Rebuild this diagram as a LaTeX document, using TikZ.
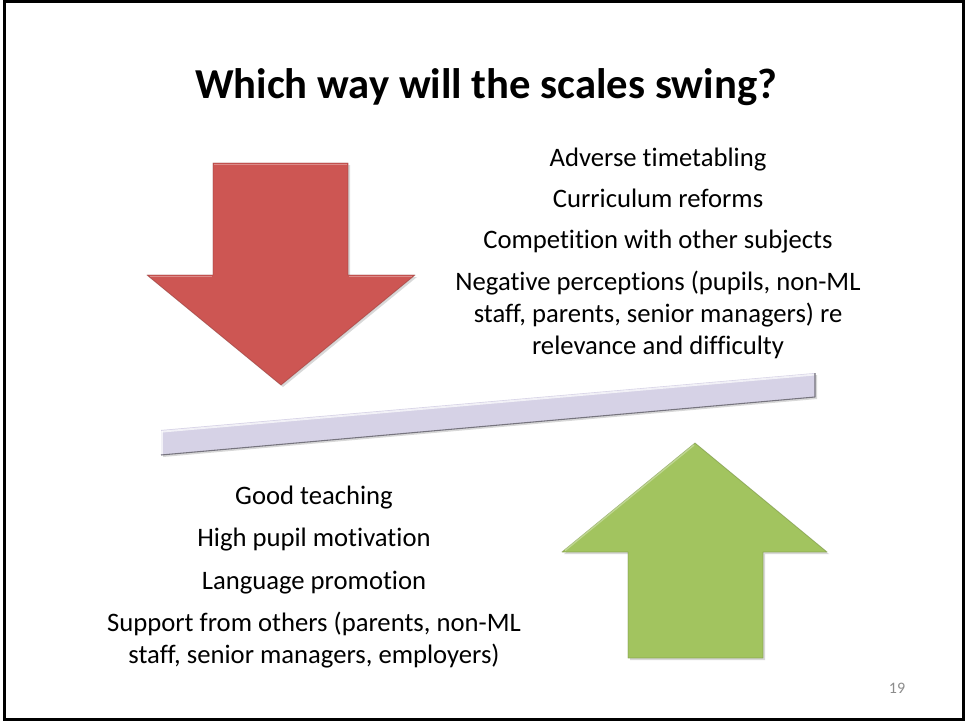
\documentclass[tikz,border=0pt]{standalone}
\usepackage{fontspec}
\setmainfont{Carlito}[Ligatures=NoCommon]
\usetikzlibrary{positioning,shadows}

\definecolor{downred}{RGB}{205,86,83}
\definecolor{upgreen}{RGB}{162,196,95}
\definecolor{beamlilac}{RGB}{214,210,230}
\definecolor{numgray}{RGB}{140,140,140}

\begin{document}
\begin{tikzpicture}[x=0.75pt,y=-0.75pt,
  factor/.style={font=\fontsize{20}{24}\selectfont, inner sep=0pt, text height=14pt, text depth=5pt},
  bevel/.style={drop shadow={opacity=0.3, shadow xshift=1.5pt, shadow yshift=-1.5pt}},
  edgelight/.style={line width=1.1pt, opacity=0.7},
  node distance=31pt]
  \useasboundingbox (0,0) rectangle (967,721);
  \fill[white] (0,0) rectangle (967,721);
  \draw[line width=2.25pt] (4.5,1.5) rectangle (963,719.5);

  % title
  \node[font=\bfseries\fontsize{32}{38}\selectfont, anchor=base] (title) at (486,98) {Which way will the scales swing?};

  % red arrow
  \fill[downred, bevel] (213,163) -- (348,163) -- (348,275) -- (415,275) -- (281,385) -- (147,275) -- (213,275) -- cycle;
  \draw[downred!75!black, line width=0.6pt, line join=round, opacity=0.6] (213,163) -- (348,163) -- (348,275) -- (415,275) -- (281,385) -- (147,275) -- (213,275) -- cycle;
  \draw[edgelight, downred!55!white] (214,164.5) -- (347,164.5);
  \draw[edgelight, downred!55!white] (150,276.5) -- (212,276.5);
  \draw[edgelight, downred!55!white] (349,276.5) -- (412,276.5);

  % green arrow
  \fill[upgreen, bevel] (628,658) -- (763,658) -- (763,552) -- (827,552) -- (695,443) -- (562,552) -- (628,552) -- cycle;
  \draw[upgreen!75!black, line width=0.6pt, line join=round, opacity=0.6] (628,658) -- (763,658) -- (763,552) -- (827,552) -- (695,443) -- (562,552) -- (628,552) -- cycle;
  \draw[edgelight, upgreen!55!white] (565,550.5) -- (694,445);

  % beam
  \fill[beamlilac, bevel] (161,430) -- (815,373) -- (815,397) -- (161,455) -- cycle;
  \draw[edgelight, white, line width=1.4pt] (162,431.6) -- (814,374.6);
  \draw[edgelight, white] (162.2,431) -- (162.2,454);
  \draw[beamlilac!55!black, line width=0.8pt, line join=round] (161,455) -- (815,397) -- (815,373);

  % against
  \node[factor, anchor=base] (adverse) at (658,166) {Adverse timetabling};
  \node[factor] (curric) [below of=adverse] {Curriculum reforms};
  \node[factor] (compet) [below of=curric] {Competition with other subjects};
  \node[factor] (negative) [below of=compet] {Negative perceptions (pupils, non-ML};
  \node[factor, node distance=24pt] (negative2) [below of=negative] {staff, parents, senior managers) re};
  \node[factor, node distance=24pt] (negative3) [below of=negative2] {relevance and difficulty};

  % for
  \node[factor, anchor=base] (good) at (314,504) {Good teaching};
  \node[factor, node distance=31.9pt] (high) [below of=good] {High pupil motivation};
  \node[factor, node distance=31.9pt] (promo) [below of=high] {Language promotion};
  \node[factor, node distance=31.9pt] (support) [below of=promo] {Support from others (parents, non-ML};
  \node[factor, node distance=24pt] (support2) [below of=support] {staff, senior managers, employers)};

  \node[font=\fontsize{12}{14}\selectfont, text=numgray, anchor=base] (pagenum) at (897,693) {19};
\end{tikzpicture}
\end{document}
